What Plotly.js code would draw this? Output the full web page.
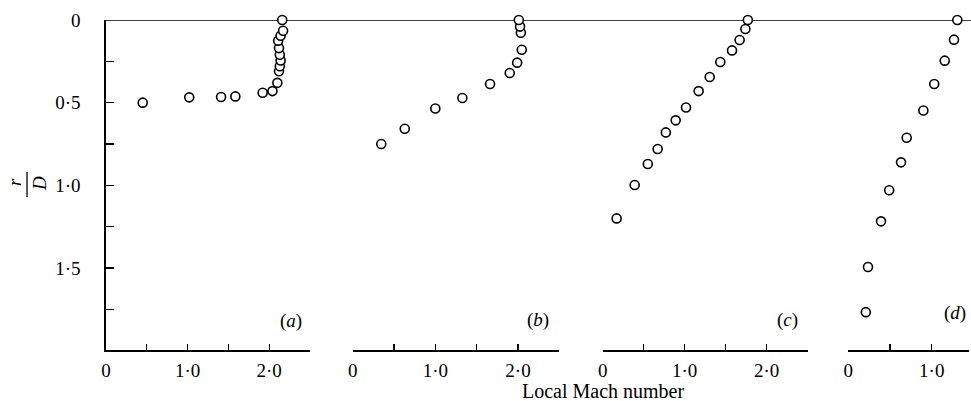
<!DOCTYPE html>
<html>
<head>
<meta charset="utf-8">
<script src="https://cdn.plot.ly/plotly-3.0.1.min.js"></script>
<style>html,body{margin:0;padding:0;background:#fff;}#chart{width:971px;height:401px;}</style>
</head>
<body>
<div id="chart"></div>
<script>
// Panel (a)
const machA = [0.45, 1.02, 1.41, 1.585, 1.92, 2.04, 2.10, 2.12, 2.13, 2.14, 2.13, 2.12, 2.11, 2.14, 2.17, 2.16];
const rA    = [0.50, 0.468, 0.466, 0.462, 0.44, 0.43, 0.38, 0.31, 0.28, 0.245, 0.21, 0.17, 0.125, 0.095, 0.065, 0.0];
// Panel (b)
const machB = [0.346, 0.63, 1.0, 1.327, 1.662, 1.90, 1.99, 2.046, 2.035, 2.025, 2.01];
const rB    = [0.75, 0.658, 0.535, 0.472, 0.387, 0.321, 0.258, 0.18, 0.077, 0.04, 0.0];
// Panel (c)
const machC = [0.17, 0.39, 0.55, 0.67, 0.77, 0.89, 1.016, 1.17, 1.305, 1.434, 1.577, 1.67, 1.74, 1.77];
const rC    = [1.20, 0.998, 0.871, 0.78, 0.68, 0.607, 0.529, 0.43, 0.345, 0.254, 0.184, 0.121, 0.054, 0.0];
// Panel (d)
const machD = [0.21, 0.236, 0.392, 0.49, 0.632, 0.70, 0.90, 1.03, 1.156, 1.267, 1.307];
const rD    = [1.767, 1.494, 1.218, 1.03, 0.861, 0.712, 0.547, 0.387, 0.246, 0.119, 0.0];

const panelLabels = ['(<i>a</i>)', '(<i>b</i>)', '(<i>c</i>)', '(<i>d</i>)'];
const yTickVals = [0, 0.25, 0.5, 0.75, 1.0, 1.25, 1.5, 1.75];
const yTickText = ['0', '', '0·5', '', '1·0', '', '1·5', ''];
const xTickVals = [0, 0.5, 1.0, 1.5, 2.0, 2.5];
const xTickText = ['0', '', '1·0', '', '2·0', ''];
const xTitle = 'Local Mach number';

const FONT = 'Liberation Serif, Times New Roman, serif';
const FS = 19;
const W = 971, H = 401, ML = 106, MR = 0, MT = 20, MB = 51;
const PW = W - ML - MR, PH = H - MT - MB;
const px = v => (v - ML) / PW;
const py = v => (H - MB - v) / PH;

const mk = {symbol: 'circle', size: 9, color: '#fff', line: {color: '#000', width: 1.6}};
const sets = [[machA, rA, 'x'], [machB, rB, 'x2'], [machC, rC, 'x3'], [machD, rD, 'x4']];
const data = sets.map(s => ({
  x: s[0], y: s[1], xaxis: s[2], yaxis: 'y', type: 'scatter', mode: 'markers',
  marker: mk, cliponaxis: false, showlegend: false, hoverinfo: 'skip'
}));

function xax(dom, rng) {
  return {
    domain: dom, range: rng, anchor: 'y', showline: true, linecolor: '#000', linewidth: 1.6,
    ticks: 'inside', ticklen: 6, tickwidth: 1.3, tickcolor: '#000',
    tickvals: xTickVals, ticktext: xTickText, showgrid: false, zeroline: false,
    tickfont: {family: FONT, size: FS, color: '#000'}, ticklabelstandoff: 3
  };
}

function ann(text, x, y, extra) {
  return Object.assign({text: text, xref: 'paper', yref: 'paper', x: px(x), y: py(y),
    xanchor: 'center', yanchor: 'middle', showarrow: false,
    font: {family: FONT, size: FS, color: '#000'}}, extra || {});
}

const layout = {
  width: W, height: H, margin: {l: ML, r: MR, t: MT, b: MB},
  paper_bgcolor: '#fff', plot_bgcolor: '#fff',
  font: {family: FONT, color: '#000'},
  showlegend: false,
  xaxis: xax([px(106), px(310)], [0, 2.5]),
  xaxis2: xax([px(352.7), px(559.3)], [0, 2.5]),
  xaxis3: xax([px(602.7), px(807.7)], [0, 2.5]),
  xaxis4: xax([px(848.3), px(969)], [0, 1.447]),
  yaxis: {
    range: [1.996, 0], anchor: 'x', showline: true, linecolor: '#000', linewidth: 1.6,
    ticks: 'inside', ticklen: 8, tickwidth: 1.3, tickcolor: '#000',
    tickvals: yTickVals, ticktext: yTickText, showgrid: false, zeroline: false,
    tickfont: {family: FONT, size: FS, color: '#000'}, ticklabelstandoff: 20
  },
  shapes: [
    {type: 'line', xref: 'paper', yref: 'y', x0: 0, x1: 1, y0: 0, y1: 0, layer: 'below',
     line: {color: '#000', width: 1.5}},
    {type: 'line', xref: 'paper', yref: 'paper', x0: px(27), x1: px(27), y0: py(172), y1: py(197),
     line: {color: '#000', width: 1.3}}
  ],
  annotations: [
    ann('<i>r</i>', 14, 182, {textangle: -90}),
    ann('<i>D</i>', 39, 184, {textangle: -90}),
    ann(xTitle, 603, 391, {font: {family: FONT, size: 20, color: '#000'}}),
    ann(panelLabels[0], 291, 321),
    ann(panelLabels[1], 538, 320),
    ann(panelLabels[2], 787, 320),
    ann(panelLabels[3], 955, 313)
  ]
};

Plotly.newPlot('chart', data, layout, {displayModeBar: false, staticPlot: true});
</script>
</body>
</html>
